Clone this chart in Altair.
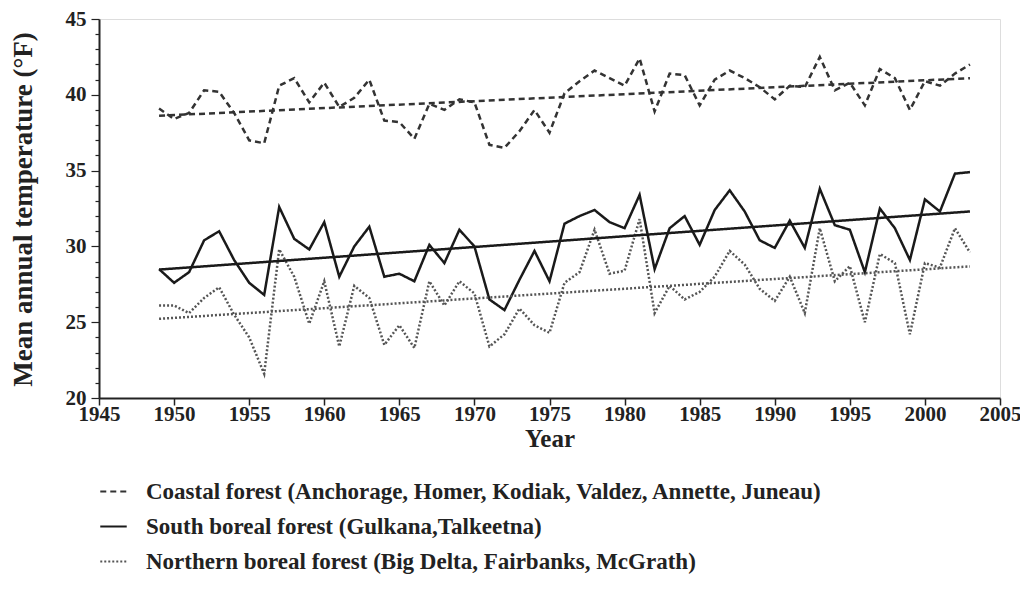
import altair as alt
import pandas as pd

years = list(range(1949, 2004))
coastal = [39.1, 38.4, 38.8, 40.3, 40.2, 38.8, 37.0, 36.8, 40.6, 41.1,
           39.5, 40.8, 39.2, 39.8, 41.0, 38.3, 38.2, 37.1, 39.4, 39.0,
           39.7, 39.5, 36.7, 36.5, 37.6, 39.0, 37.5, 40.1, 40.9, 41.6,
           41.1, 40.6, 42.4, 38.9, 41.4, 41.3, 39.3, 41.0, 41.6, 41.1,
           40.5, 39.7, 40.6, 40.5, 42.5, 40.3, 40.8, 39.3, 41.7, 41.1,
           39.0, 40.9, 40.6, 41.4, 42.0]
south = [28.5, 27.6, 28.3, 30.4, 31.0, 29.1, 27.6, 26.8, 32.6, 30.5,
         29.8, 31.6, 28.0, 30.0, 31.3, 28.0, 28.2, 27.7, 30.1, 28.9,
         31.1, 30.0, 26.5, 25.8, 27.8, 29.7, 27.7, 31.5, 32.0, 32.4,
         31.6, 31.2, 33.4, 28.5, 31.2, 32.0, 30.1, 32.4, 33.7, 32.3,
         30.4, 29.9, 31.7, 29.9, 33.8, 31.4, 31.1, 28.3, 32.5, 31.2,
         29.1, 33.1, 32.3, 34.8, 34.9]
northern = [26.1, 26.1, 25.6, 26.6, 27.3, 25.5, 24.0, 21.6, 29.8, 28.0,
            24.9, 27.7, 23.4, 27.4, 26.6, 23.5, 24.8, 23.3, 27.7, 26.1,
            27.7, 26.9, 23.4, 24.2, 25.9, 24.8, 24.3, 27.6, 28.3, 31.1,
            28.2, 28.4, 31.8, 25.6, 27.4, 26.5, 27.0, 28.0, 29.7, 28.8,
            27.2, 26.4, 28.0, 25.6, 31.2, 27.7, 28.7, 25.0, 29.5, 28.9,
            24.2, 28.9, 28.6, 31.2, 29.6]

series_names = [
    "Coastal forest (Anchorage, Homer, Kodiak, Valdez, Annette, Juneau)",
    "South boreal forest (Gulkana,Talkeetna)",
    "Northern boreal forest (Big Delta, Fairbanks, McGrath)",
]

rows = []
for name, vals in zip(series_names, [coastal, south, northern]):
    for y, v in zip(years, vals):
        rows.append({"year": y, "temp": v, "series": name})
df = pd.DataFrame(rows)

FONT = "Liberation Serif"

legend = alt.Legend(
    title=None, orient="none", legendX=0, legendY=458, direction="vertical",
    symbolType="stroke", symbolSize=700, symbolStrokeWidth=2,
    labelFont=FONT, labelFontSize=23, labelFontWeight="bold", labelColor="#222",
    labelOffset=18, rowPadding=8, labelLimit=900,
)

color = alt.Color("series:N", sort=series_names,
                  scale=alt.Scale(domain=series_names, range=["#333333", "#1a1a1a", "#555555"]),
                  legend=legend)
dash = alt.StrokeDash("series:N", sort=series_names,
                      scale=alt.Scale(domain=series_names, range=[[6, 4], [1, 0], [2, 2]]),
                      legend=legend)

xaxis = alt.Axis(values=list(range(1945, 2006, 5)), format="d", labelOverlap=False, labelFlush=False,
                 title="Year", titleFont=FONT, titleFontSize=25, titleFontWeight="bold",
                 titleColor="#222", titleY=40, titleBaseline="middle",
                 labelFont=FONT, labelFontSize=21, labelFontWeight="bold", labelColor="#222",
                 labelPadding=-2, tickSize=7, tickWidth=1.5, tickColor="#222",
                 domainColor="#222", domainWidth=2, grid=False)
yaxis = alt.Axis(values=list(range(20, 46)), labelOverlap=False, labelFlush=False, format="d",
                 labelExpr="datum.value % 5 === 0 ? datum.label : ''",
                 tickSize={"condition": {"test": "datum.value % 5 === 0", "value": 8}, "value": 4},
                 tickWidth=1.2, tickColor="#222",
                 title="Mean annual temperature (°F)", titleFont=FONT, titleFontSize=27,
                 titleFontWeight="bold", titleColor="#222", titleX=-76, titleY=190,
                 titleAngle=-90, titleAlign="center", titleBaseline="middle",
                 labelFont=FONT, labelFontSize=21, labelFontWeight="bold", labelColor="#222",
                 labelPadding=5, domainColor="#222", domainWidth=2, grid=False)

xenc = alt.X("year:Q", scale=alt.Scale(domain=[1945, 2005], nice=False), axis=xaxis)
yenc = alt.Y("temp:Q", scale=alt.Scale(domain=[20, 45], nice=False), axis=yaxis)

base = alt.Chart(df)
lines = base.mark_line(strokeWidth=2.5).encode(x=xenc, y=yenc, color=color, strokeDash=dash,
                                               detail="series:N")
trend = base.transform_regression("year", "temp", groupby=["series"]).mark_line(strokeWidth=2.5).encode(
    x=xenc, y=yenc, color=color, strokeDash=dash, detail="series:N")

chart = alt.layer(lines, trend).properties(
    width=901, height=379,
    autosize=alt.AutoSizeParams(type="none"),
    padding={"left": 91, "top": 11, "right": 20, "bottom": 200},
).configure_view(stroke="#222", strokeWidth=1.5).configure(background="white")

chart.save("out.html", embed_options={"renderer": "svg", "actions": False})
